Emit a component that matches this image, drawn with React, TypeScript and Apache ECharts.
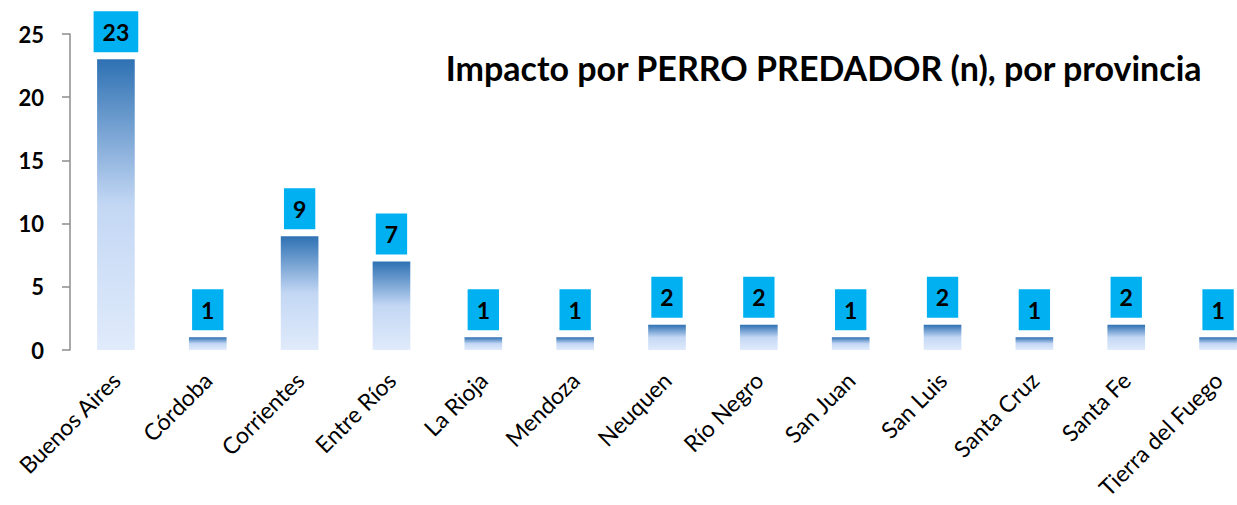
import React, { useEffect, useRef } from "react";
import * as echarts from "echarts";

const categories = [
  "Buenos Aires",
  "Córdoba",
  "Corrientes",
  "Entre Ríos",
  "La Rioja",
  "Mendoza",
  "Neuquen",
  "Río Negro",
  "San Juan",
  "San Luis",
  "Santa Cruz",
  "Santa Fe",
  "Tierra del Fuego",
];
const values = [23, 1, 9, 7, 1, 1, 2, 2, 1, 2, 1, 2, 1];
const yTicks = { min: 0, max: 25, interval: 5 };
const titleText = "Impacto por PERRO PREDADOR (n), por provincia";

export default function App() {
  const ref = useRef<HTMLDivElement>(null);
  useEffect(() => {
    document.body.style.margin = "0";
    const chart = echarts.init(ref.current!, null, { renderer: "svg" });
    const font = "Lato, 'Open Sans', sans-serif";
    chart.setOption({
      animation: false,
      backgroundColor: "#ffffff",
      textStyle: { fontFamily: font },
      grid: {
        left: 70,
        top: 34,
        right: -27,
        bottom: 155,
        containLabel: false,
        outerBoundsMode: "none",
      },
      graphic: [
        {
          type: "text",
          right: 34,
          top: 50,
          style: {
            text: titleText,
            font: `bold 34px ${font}`,
            fill: "#000000",
          },
        },
      ],
      xAxis: {
        type: "category",
        data: categories,
        axisLine: { show: false },
        axisTick: { show: false },
        axisLabel: {
          rotate: 45,
          interval: 0,
          margin: 26,
          fontSize: 23,
          color: "#000000",
          fontFamily: font,
        },
      },
      yAxis: {
        type: "value",
        min: yTicks.min,
        max: yTicks.max,
        interval: yTicks.interval,
        splitLine: { show: false },
        axisLine: { show: true, lineStyle: { color: "#8c8c8c", width: 1.5 } },
        axisTick: { show: true, length: 8, lineStyle: { color: "#8c8c8c", width: 1.5 } },
        axisLabel: {
          margin: 26,
          fontSize: 22,
          fontWeight: "bold",
          color: "#000000",
          fontFamily: font,
        },
      },
      series: [
        {
          type: "bar",
          data: values,
          barWidth: "41%",
          itemStyle: {
            color: new echarts.graphic.LinearGradient(0, 0, 0, 1, [
              { offset: 0, color: "#2e71b3" },
              { offset: 0.5, color: "#c3d7f4" },
              { offset: 1, color: "#e0ebfb" },
            ]),
          },
          label: {
            show: true,
            position: "top",
            distance: 7,
            backgroundColor: "#00b0f0",
            color: "#000000",
            fontWeight: "bold",
            fontSize: 23,
            fontFamily: font,
            lineHeight: 25,
            padding: [8, 9, 8, 9],
          },
        },
      ],
    });
    return () => chart.dispose();
  }, []);
  return <div ref={ref} style={{ width: 1237, height: 505 }} />;
}
